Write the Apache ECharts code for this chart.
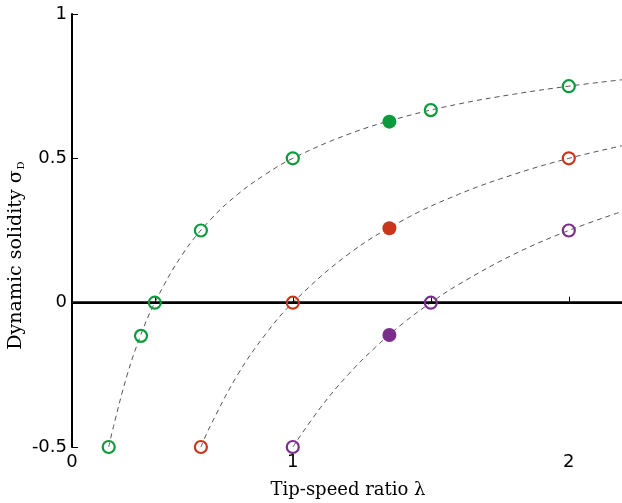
<!DOCTYPE html>
<html>
<head>
<meta charset="utf-8">
<script src="https://cdn.jsdelivr.net/npm/echarts@6/dist/echarts.min.js"></script>
<style>
  html, body { margin: 0; padding: 0; background: #fff; }
  #chart { width: 622px; height: 503px; }
</style>
</head>
<body>
<div id="chart"></div>
<script>
// 虚线拟合曲线 (λ, σ_D) 读图取值
const greenCurveX = [0.333, 0.35, 0.4, 0.45, 0.5, 0.6, 0.7, 0.8, 0.9, 1.0, 1.2, 1.4, 1.6, 1.8, 2.0, 2.2]
const greenCurveY = [-0.5, -0.43, -0.25, -0.11, 0, 0.167, 0.286, 0.375, 0.444, 0.5, 0.583, 0.643, 0.688, 0.722, 0.75, 0.773]
const redCurveX = [0.667, 0.7, 0.8, 0.9, 1.0, 1.2, 1.4, 1.6, 1.8, 2.0, 2.2]
const redCurveY = [-0.5, -0.429, -0.25, -0.111, 0, 0.167, 0.286, 0.375, 0.444, 0.5, 0.545]
const purpleCurveX = [1.0, 1.1, 1.2, 1.3, 1.4, 1.5, 1.6, 1.8, 2.0, 2.2]
const purpleCurveY = [-0.5, -0.364, -0.25, -0.154, -0.071, 0, 0.0625, 0.167, 0.25, 0.318]

// 空心点
const greenOpenX = [0.333, 0.45, 0.5, 0.667, 1.0, 1.5, 2.0]
const greenOpenY = [-0.5, -0.115, 0, 0.25, 0.5, 0.667, 0.75]
const redOpenX = [0.667, 1.0, 2.0]
const redOpenY = [-0.5, 0, 0.5]
const purpleOpenX = [1.0, 1.5, 2.0]
const purpleOpenY = [-0.5, 0, 0.25]

// 实心点
const filledX = [1.35, 1.35, 1.35]
const filledY = [0.627, 0.258, -0.112]

const xLabelValues = [0.2, 1, 2]
const xLabelTexts = ['0', '1', '2']
const xTickValues = [0.5, 1, 1.5, 2]

const GREEN = '#0b9a3c'
const RED = '#c8361b'
const PURPLE = '#7b2d8c'

const zip = (xs, ys) => xs.map((x, i) => [x, ys[i]])

const curve = (xs, ys) => ({
  type: 'line',
  data: zip(xs, ys),
  smooth: 0.4,
  symbol: 'none',
  lineStyle: { color: '#555', width: 1, type: [5, 4] },
  z: 2,
  silent: true
})

const openPts = (xs, ys, color) => ({
  type: 'scatter',
  data: zip(xs, ys),
  symbol: 'circle',
  symbolSize: 12,
  itemStyle: { color: 'rgba(255,255,255,0)', borderColor: color, borderWidth: 2.2, opacity: 1 },
  z: 5
})

const chart = echarts.init(document.getElementById('chart'))
chart.setOption({
  animation: false,
  backgroundColor: '#fff',
  grid: { left: 72, top: 14, bottom: 56, right: -2, containLabel: false, outerBoundsMode: 'none' },
  xAxis: {
    type: 'value',
    min: 0.2,
    max: 2.2,
    name: 'Tip-speed ratio λ',
    nameLocation: 'middle',
    nameGap: 34,
    nameMoveOverlap: false,
    nameTextStyle: { fontFamily: 'DejaVu Serif', fontSize: 18, color: '#000' },
    axisLine: { lineStyle: { color: '#000', width: 2 } },
    axisTick: { inside: true, length: 6, customValues: xTickValues, lineStyle: { color: '#000', width: 1 } },
    axisLabel: {
      customValues: xLabelValues,
      formatter: v => xLabelTexts[xLabelValues.indexOf(v)] ?? '',
      fontFamily: 'DejaVu Sans',
      fontSize: 18,
      color: '#000',
      margin: 6
    },
    splitLine: { show: false }
  },
  yAxis: {
    type: 'value',
    min: -0.5,
    max: 1,
    interval: 0.5,
    name: '{a|Dynamic solidity σ}{b|D}',
    nameLocation: 'middle',
    nameGap: 46,
    nameRotate: 90,
    nameMoveOverlap: false,
    nameTextStyle: {
      padding: [0, 50, 0, 0],
      rich: {
        a: { fontFamily: 'DejaVu Serif', fontSize: 19, color: '#000' },
        b: { fontFamily: 'DejaVu Serif', fontSize: 10, color: '#000', padding: [9, 0, 0, 1] }
      }
    },
    axisLine: { lineStyle: { color: '#000', width: 2 } },
    axisTick: { inside: true, length: 6, lineStyle: { color: '#000', width: 1 } },
    axisLabel: {
      formatter: v => String(v),
      fontFamily: 'DejaVu Sans',
      fontSize: 18,
      color: '#000',
      margin: 5
    },
    splitLine: { show: false }
  },
  series: [
    {
      type: 'line',
      data: [],
      markLine: {
        silent: true,
        symbol: 'none',
        label: { show: false },
        lineStyle: { color: '#000', width: 2.5, type: 'solid' },
        data: [{ yAxis: 0 }]
      },
      z: 3
    },
    curve(greenCurveX, greenCurveY),
    curve(redCurveX, redCurveY),
    curve(purpleCurveX, purpleCurveY),
    openPts(greenOpenX, greenOpenY, GREEN),
    openPts(redOpenX, redOpenY, RED),
    openPts(purpleOpenX, purpleOpenY, PURPLE),
    {
      type: 'scatter',
      data: zip(filledX, filledY).map((p, i) => ({
        value: p,
        itemStyle: { color: [GREEN, RED, PURPLE][i], opacity: 1 }
      })),
      symbol: 'circle',
      symbolSize: 14,
      z: 5
    }
  ]
})
</script>
</body>
</html>
